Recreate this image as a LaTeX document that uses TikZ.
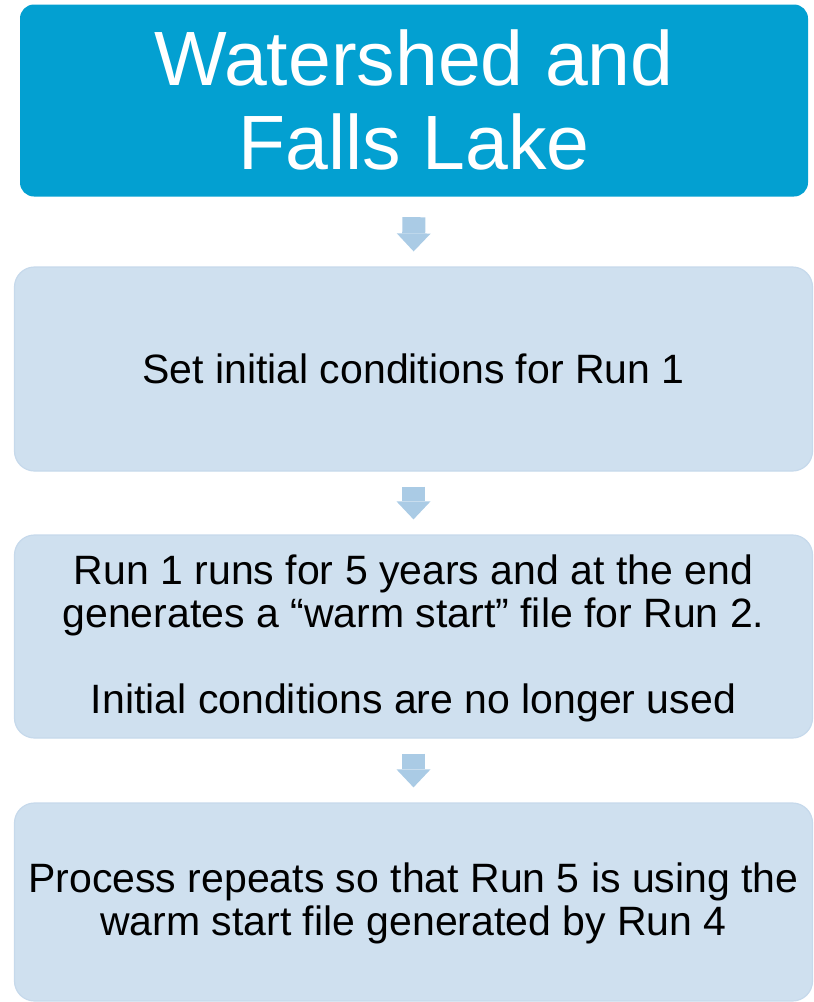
\documentclass[tikz,border=0pt]{standalone}
\usepackage{fontspec}
\setmainfont{Liberation Sans}
\usetikzlibrary{arrows.meta}
\definecolor{titleblue}{RGB}{3,160,209}
\definecolor{boxblue}{RGB}{207,224,239}
\definecolor{boxedge}{RGB}{198,217,235}
\definecolor{arrowblue}{RGB}{170,203,229}
\newcommand\lnstrut{\rule[-0.1em]{0pt}{0.9em}}
\begin{document}
\begin{tikzpicture}[x=1pt,y=-1pt,
  titlebox/.style={rectangle, rounded corners=14pt, fill=titleblue, text=white,
    align=center, inner sep=0pt, font=\fontsize{77}{84}\selectfont},
  stepbox/.style={rectangle, rounded corners=20pt, fill=boxblue, draw=boxedge,
    line width=1.2pt, text=black, align=center, inner sep=0pt,
    font=\fontsize{41}{43}\selectfont},
  flowarrow/.style={draw=arrowblue, line width=23pt,
    -{Triangle[width=34pt,length=18pt,line width=0pt]},
    shorten <=15pt, shorten >=15pt}]
\useasboundingbox (0,0) rectangle (814,1002);
\node[titlebox, minimum width=788pt, minimum height=192pt] (t) at (414,100.5)
  {\lnstrut Watershed and\\\lnstrut Falls Lake};
\node[stepbox, minimum width=798pt, minimum height=204pt] (b2) at (413.5,369)
  {\lnstrut Set initial conditions for Run 1};
\node[stepbox, minimum width=798pt, minimum height=203pt] (b3) at (413.5,636.5)
  {\lnstrut Run 1 runs for 5 years and at the end\\
   \lnstrut generates a “warm start” file for Run 2.\\[43pt]
   \lnstrut Initial conditions are no longer used};
\node[stepbox, minimum width=798pt, minimum height=198pt] (b4) at (413.5,902)
  {\lnstrut Process repeats so that Run 5 is using the\\
   \lnstrut warm start file generated by Run 4};
\draw[flowarrow, shorten <=20.5pt] (t.south) -- (b2.north);
\draw[flowarrow] (b2.south) -- (b3.north);
\draw[flowarrow] (b3.south) -- (b4.north);
\end{tikzpicture}
\end{document}
